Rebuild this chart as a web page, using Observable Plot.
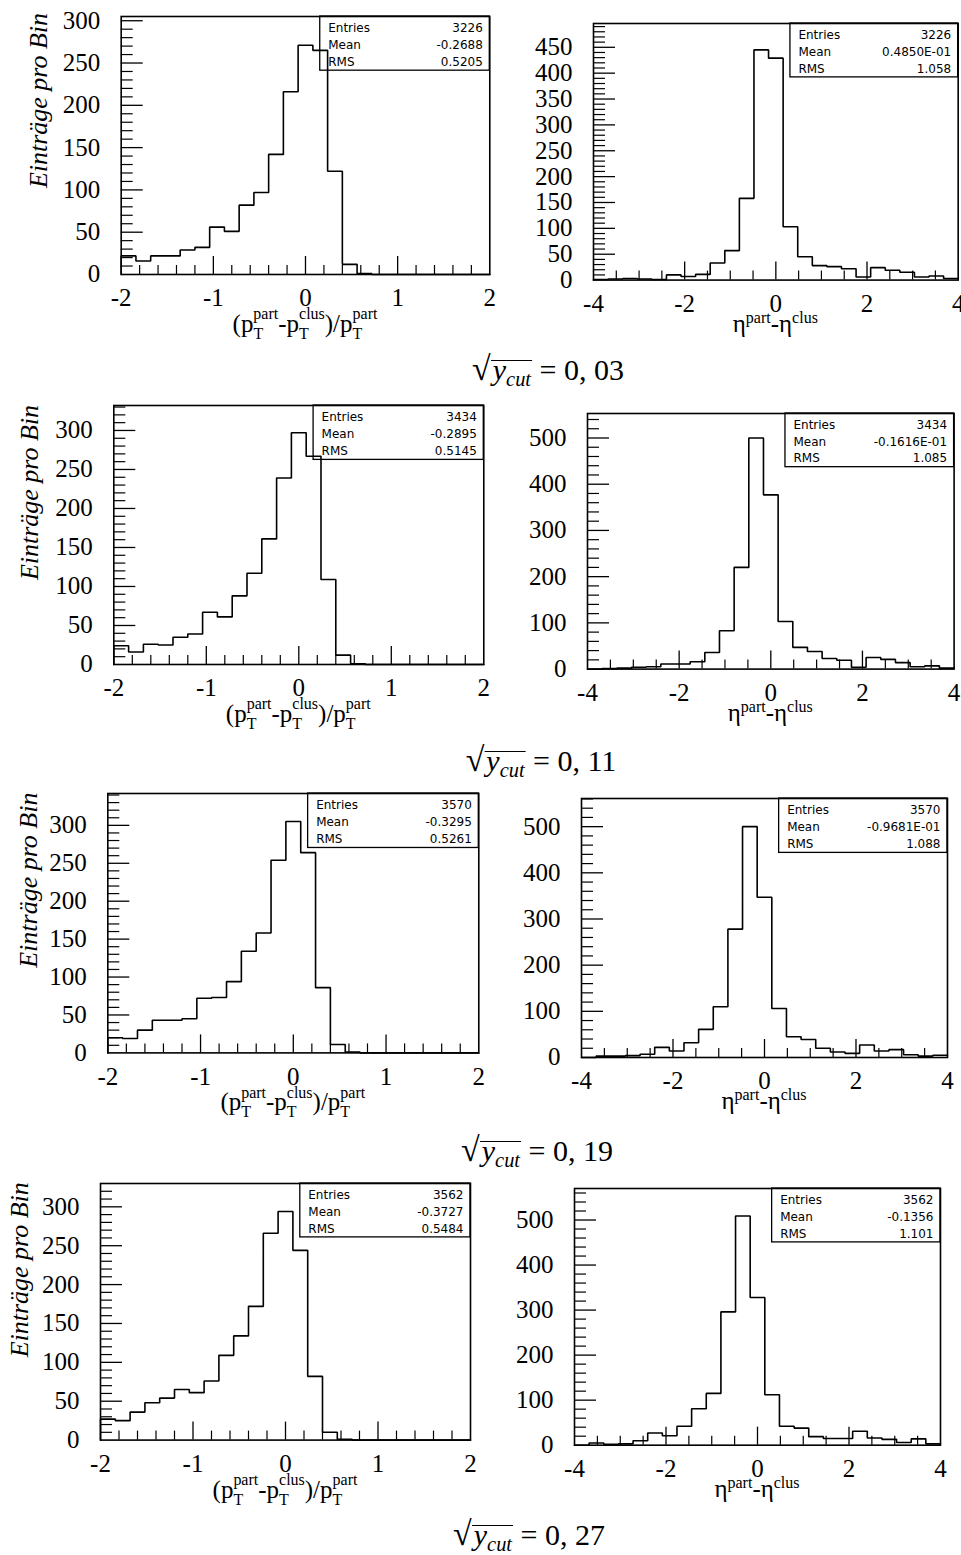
<!DOCTYPE html>
<html>
<head>
<meta charset="utf-8">
<script src="https://cdn.jsdelivr.net/npm/d3@7"></script>
<script src="https://cdn.jsdelivr.net/npm/@observablehq/plot@0.6"></script>
<style>
  html, body { margin: 0; padding: 0; background: #fff; }
  #page { position: relative; width: 961px; height: 1555px; overflow: hidden; background: #fff; }
  .panel { position: absolute; }
  .cap { position: absolute; font-family: 'Liberation Serif', 'Times New Roman', serif; font-size: 30px;
         line-height: 1; white-space: nowrap; transform: translateX(-50%); color: #000; }
  .cap .rad { font-size: 34px; }
  .cap .ov { display: inline-block; border-top: 1.6px solid #000; line-height: 0.6; padding: 0 1px 0 2px; }
  .cap sub { font-size: 0.68em; line-height: 0; vertical-align: -0.28em; font-style: italic; }
</style>
</head>
<body>
<div id="page"></div>
<script>
// Histogram ranges (25 bins each)
const ptRange = [-2, 2];
const etaRange = [-4, 4];

// Cut values, one row of plots per cut
const cutLabels = ["0, 03", "0, 11", "0, 19", "0, 27"];

// Relative transverse-momentum residual, entries per bin
const ptCounts003 = [22, 16, 22, 22, 29, 32, 56, 51, 82, 97, 142, 216, 271, 265, 122, 12, 1, 0, 0, 0, 0, 0, 0, 0, 0];
const ptCounts011 = [24, 16, 26, 25, 35, 39, 67, 61, 88, 117, 161, 239, 297, 267, 109, 12, 1, 0, 0, 0, 0, 0, 0, 0, 0];
const ptCounts019 = [20, 19, 30, 43, 43, 45, 72, 73, 94, 134, 158, 254, 305, 264, 86, 11, 1, 0, 0, 0, 0, 0, 0, 0, 0];
const ptCounts027 = [27, 25, 36, 48, 54, 65, 61, 76, 109, 134, 172, 266, 294, 244, 82, 10, 1, 0, 0, 0, 0, 0, 0, 0, 0];

// Pseudorapidity residual, entries per bin
const etaCounts003 = [1, 2, 3, 2, 1, 10, 7, 11, 33, 57, 158, 445, 429, 103, 45, 28, 26, 22, 6, 24, 19, 15, 6, 8, 3];
const etaCounts011 = [0, 1, 2, 4, 5, 11, 11, 16, 36, 83, 220, 500, 377, 103, 47, 38, 23, 19, 4, 25, 21, 14, 5, 7, 2];
const etaCounts019 = [0, 3, 3, 4, 7, 22, 14, 32, 61, 110, 278, 500, 347, 106, 45, 39, 20, 12, 9, 27, 14, 17, 6, 3, 5];
const etaCounts027 = [0, 5, 2, 3, 10, 27, 21, 42, 81, 115, 296, 509, 328, 112, 42, 38, 19, 15, 15, 31, 16, 13, 6, 14, 3];

// Statistics boxes
const ptEntries = [3226, 3434, 3570, 3562];
const ptMean = ["-0.2688", "-0.2895", "-0.3295", "-0.3727"];
const ptRms = ["0.5205", "0.5145", "0.5261", "0.5484"];
const etaEntries = [3226, 3434, 3570, 3562];
const etaMean = ["0.4850E-01", "-0.1616E-01", "-0.9681E-01", "-0.1356"];
const etaRms = ["1.058", "1.085", "1.088", "1.101"];

// Axis tick labels
const ptXTicks = [-2, -1, 0, 1, 2];
const etaXTicks = [-4, -2, 0, 2, 4];
const yTicks300 = [0, 50, 100, 150, 200, 250, 300];
const yTicks450 = [0, 50, 100, 150, 200, 250, 300, 350, 400, 450];
const yTicks500 = [0, 100, 200, 300, 400, 500];
const yLabelText = "Einträge pro Bin";

const serif = "'Liberation Serif', 'Times New Roman', serif";
const sans = "'DejaVu Sans', 'Liberation Sans', sans-serif";

// Frame placement of each panel on the page, and the top of its y axis
const panels = [
  {kind: "pt",  counts: ptCounts003,  stats: [ptEntries[0], ptMean[0], ptRms[0]],   frame: {left: 120.7, top: 16,    right: 489.3, bottom: 274},    ymax: 305, yTicks: yTicks300, yMinor: 10, ylab: {x: 46,   y: 100}},
  {kind: "eta", counts: etaCounts003, stats: [etaEntries[0], etaMean[0], etaRms[0]], frame: {left: 593.3, top: 22.7,  right: 958,   bottom: 279.3},  ymax: 496, yTicks: yTicks450, yMinor: 10},
  {kind: "pt",  counts: ptCounts011,  stats: [ptEntries[1], ptMean[1], ptRms[1]],   frame: {left: 113.3, top: 405,   right: 483.3, bottom: 664},    ymax: 332, yTicks: yTicks300, yMinor: 10, ylab: {x: 37.5, y: 492}},
  {kind: "eta", counts: etaCounts011, stats: [etaEntries[1], etaMean[1], etaRms[1]], frame: {left: 586.7, top: 412.7, right: 953.3, bottom: 668.3},  ymax: 553, yTicks: yTicks500, yMinor: 20},
  {kind: "pt",  counts: ptCounts019,  stats: [ptEntries[2], ptMean[2], ptRms[2]],   frame: {left: 107.3, top: 793.3, right: 478.3, bottom: 1052.7}, ymax: 342, yTicks: yTicks300, yMinor: 10, ylab: {x: 36.5, y: 880}},
  {kind: "eta", counts: etaCounts019, stats: [etaEntries[2], etaMean[2], etaRms[2]], frame: {left: 580.7, top: 798.3, right: 946.7, bottom: 1057.3}, ymax: 561, yTicks: yTicks500, yMinor: 20},
  {kind: "pt",  counts: ptCounts027,  stats: [ptEntries[3], ptMean[3], ptRms[3]],   frame: {left: 100,   top: 1182.7, right: 470,  bottom: 1439.3}, ymax: 330, yTicks: yTicks300, yMinor: 10, ylab: {x: 27.5, y: 1269}},
  {kind: "eta", counts: etaCounts027, stats: [etaEntries[3], etaMean[3], etaRms[3]], frame: {left: 574,   top: 1188.3, right: 940,  bottom: 1445},   ymax: 570, yTicks: yTicks500, yMinor: 20}
];

// Caption centre and baseline for each row
const captions = [
  {x: 548, base: 377}, {x: 541, base: 768}, {x: 537, base: 1158}, {x: 529, base: 1542}
];

const page = document.getElementById("page");

// Append a label with stacked sub/superscripts as SVG tspans
function addXLabel(svg, kind, cx, base) {
  const t = d3.select(svg).append("text")
    .attr("x", cx).attr("y", base)
    .attr("text-anchor", "middle")
    .attr("font-family", serif)
    .attr("font-size", 25)
    .attr("fill", "black");
  const parts = kind === "pt"
    ? [["(p", 25, 0], ["T", 16, 7], ["part", 16, -19.5, "-0.611em"],
       ["-p", 25, 12.5], ["T", 16, 7], ["clus", 16, -19.5, "-0.611em"],
       [")/p", 25, 12.5], ["T", 16, 7], ["part", 16, -19.5, "-0.611em"]]
    : [["\u03b7", 25, 0], ["part", 16, -9], ["-\u03b7", 25, 9], ["clus", 16, -9]];
  for (const [s, size, dy, dx] of parts) {
    const ts = t.append("tspan").attr("font-size", size).attr("dy", dy).text(s);
    if (dx) ts.attr("dx", dx);
  }
}

function drawPanel(p) {
  const {frame, ymax, counts, stats, kind} = p;
  const isPt = kind === "pt";
  const [lo, hi] = isPt ? ptRange : etaRange;
  const fw = frame.right - frame.left, fh = frame.bottom - frame.top;
  const mL = isPt ? frame.left : 76;
  const mR = isPt ? 12 : Math.max(2, 961 - frame.right);
  const mT = 14, mB = 80;

  // Outline of the histogram: one point per bin's lower edge, closed at the upper edge
  const bw = (hi - lo) / counts.length;
  const outline = [{x: lo, y: 0}, ...counts.map((c, i) => ({x: lo + i * bw, y: c})),
                   {x: hi, y: counts[counts.length - 1]}];

  // Tick positions
  const yMinor = d3.range(p.yMinor, ymax, p.yMinor).filter(v => v % (p.yTicks[1]) !== 0);
  const xTicks = isPt ? ptXTicks : etaXTicks;
  const xMajorInner = isPt ? [-1, 0, 1] : [-2, 0, 2];
  const xMinor = isPt
    ? d3.range(-9, 10).filter(k => k % 5 !== 0).map(k => k * 0.2)
    : d3.range(-7, 8).filter(k => k % 4 !== 0).map(k => k * 0.5);

  // Statistics box in the upper right corner
  const bx1 = lo + 0.54 * (hi - lo), by1 = 0.79 * ymax;
  const rows = [["Entries", String(stats[0])], ["Mean", stats[1]], ["RMS", stats[2]]]
    .map(([label, value], i) => ({label, value, y: ymax - (0.22 + 0.31 * i) * (ymax - by1)}));

  const marks = [
    Plot.tickY(yMinor, {y: d => d, insetRight: fw - 12, stroke: "black", strokeWidth: 1.2}),
    Plot.tickY(p.yTicks.filter(v => v > 0), {y: d => d, insetRight: fw - 22, stroke: "black", strokeWidth: 1.3}),
    Plot.tickX(xMinor, {x: d => d, insetTop: fh - 9, stroke: "black", strokeWidth: 1.2}),
    Plot.tickX(xMajorInner, {x: d => d, insetTop: fh - 18, stroke: "black", strokeWidth: 1.3}),
    Plot.line(outline, {x: "x", y: "y", curve: "step-after", stroke: "black", strokeWidth: 1.6, strokeLinejoin: "miter"}),
    Plot.rect([rows], {x1: () => bx1, x2: () => hi, y1: () => by1, y2: () => ymax, fill: "none", stroke: "black", strokeWidth: 1.3}),
    Plot.text(rows, {x: () => bx1, y: "y", text: "label", dx: 8, textAnchor: "start", fontFamily: sans, fontSize: 12, fill: "black"}),
    Plot.text(rows, {x: () => hi, y: "y", text: "value", dx: -7, textAnchor: "end", fontFamily: sans, fontSize: 12, fill: "black"}),
    Plot.frame({stroke: "black", strokeWidth: 1.6}),
    // Tick labels, in the serif face
    Plot.text(p.yTicks, {x: () => lo, y: d => d, text: d => String(d), dx: -21, textAnchor: "end", lineAnchor: "middle",
                         fontFamily: serif, fontSize: 25, fill: "black"}),
    Plot.text(xTicks, {x: d => d, y: () => 0, text: d => String(d), dy: 14, textAnchor: "middle", lineAnchor: "top",
                       fontFamily: serif, fontSize: 25, fill: "black"})
  ];
  if (p.ylab) {
    marks.push(Plot.text([yLabelText], {
      text: d => d, frameAnchor: "left", rotate: -90, textAnchor: "middle", lineAnchor: "middle",
      dx: p.ylab.x - 8.3 - frame.left,
      dy: p.ylab.y - (frame.top + frame.bottom) / 2,
      fontFamily: serif, fontSize: 26, fontStyle: "italic", fill: "black"
    }));
  }

  const svg = Plot.plot({
    width: mL + fw + mR,
    height: mT + fh + mB,
    marginLeft: mL, marginRight: mR, marginTop: mT, marginBottom: mB,
    x: {domain: [lo, hi], axis: null},
    y: {domain: [0, ymax], axis: null},
    style: "background: transparent; color: black; overflow: visible;",
    marks
  });

  addXLabel(svg, kind, mL + fw / 2, mT + fh + (isPt ? 58 : 52));

  const holder = document.createElement("div");
  holder.className = "panel";
  holder.style.left = (frame.left - mL) + "px";
  holder.style.top = (frame.top - mT) + "px";
  holder.appendChild(svg);
  page.appendChild(holder);
}

panels.forEach(drawPanel);

// Row captions: square root of y_cut
captions.forEach((c, i) => {
  const div = document.createElement("div");
  div.className = "cap";
  div.style.left = c.x + "px";
  div.style.top = (c.base - 25) + "px";
  div.innerHTML = '<span class="rad">\u221a</span><span class="ov"><i>y</i><sub>cut</sub></span> = ' + cutLabels[i];
  page.appendChild(div);
});
</script>
</body>
</html>
